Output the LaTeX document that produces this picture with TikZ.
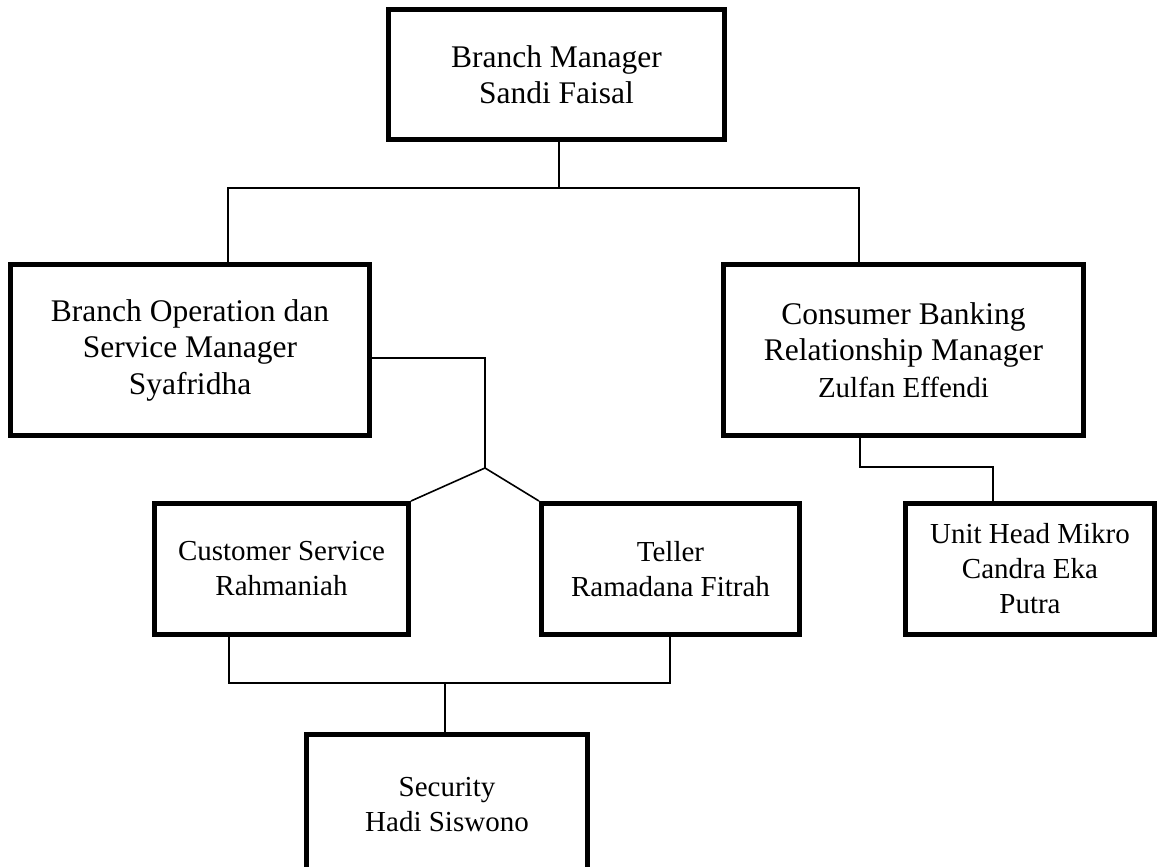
\documentclass[tikz,border=0pt]{standalone}
\usepackage{fontspec}
\setmainfont{Liberation Serif}
\tikzset{
  box/.style={draw, line width=5pt, align=center, inner sep=0pt, fill=white},
  big/.style={font=\fontsize{31.5}{36.5}\selectfont},
  small/.style={font=\fontsize{29}{35}\selectfont},
  conn/.style={line width=1.6pt},
}
\begin{document}
\begin{tikzpicture}[x=1pt,y=-1pt]
\useasboundingbox (0,0) rectangle (1157,867);
\clip (0,0) rectangle (1157,867);

\node[box,big,minimum width=336pt,minimum height=130pt] (BM) at (556.5,74.5) {Branch Manager\\Sandi Faisal};
\node[box,big,minimum width=359pt,minimum height=171pt] (BO) at (190,350) {Branch Operation dan\\Service Manager\\Syafridha};
\node[box,big,minimum width=360pt,minimum height=171pt] (CB) at (903.5,350) {Consumer Banking\\Relationship Manager\\{\fontsize{29}{35}\selectfont Zulfan Effendi}};
\node[box,small,minimum width=254pt,minimum height=131pt] (CS) at (281.5,569) {Customer Service\\Rahmaniah};
\node[box,small,minimum width=258pt,minimum height=131pt] (TE) at (670.5,569) {Teller\\Ramadana Fitrah};
\node[box,small,minimum width=249pt,minimum height=131pt] (UH) at (1030,569) {Unit Head Mikro\\Candra Eka\\Putra};
\node[box,small,minimum width=281pt,minimum height=141pt] (SE) at (447,805) {Security\\Hadi Siswono};

\coordinate (b1) at (228,188);
\coordinate (b2) at (859,188);
\coordinate (b0) at (559,188);
\coordinate (h1) at (485,358);
\coordinate (j) at (485,468);
\coordinate (c1) at (860,467);
\coordinate (c2) at (993,467);
\coordinate (b3) at (229,683);
\coordinate (b4) at (670,683);
\coordinate (b5) at (445,683);

\draw[conn] (BM.south -| b0) -- (b0);
\draw[conn] (BO.north -| b1) -- (b1) -- (b2) -- (CB.north -| b2);
\draw[conn] (BO.east |- h1) -- (h1) -- (j);
\draw[conn] (CS.north east) -- (j) -- (TE.north west);
\draw[conn] (CB.south -| c1) -- (c1) -- (c2) -- (UH.north -| c2);
\draw[conn] (CS.south -| b3) -- (b3) -- (b4) -- (TE.south -| b4);
\draw[conn] (b5) -- (SE.north -| b5);
\end{tikzpicture}
\end{document}
